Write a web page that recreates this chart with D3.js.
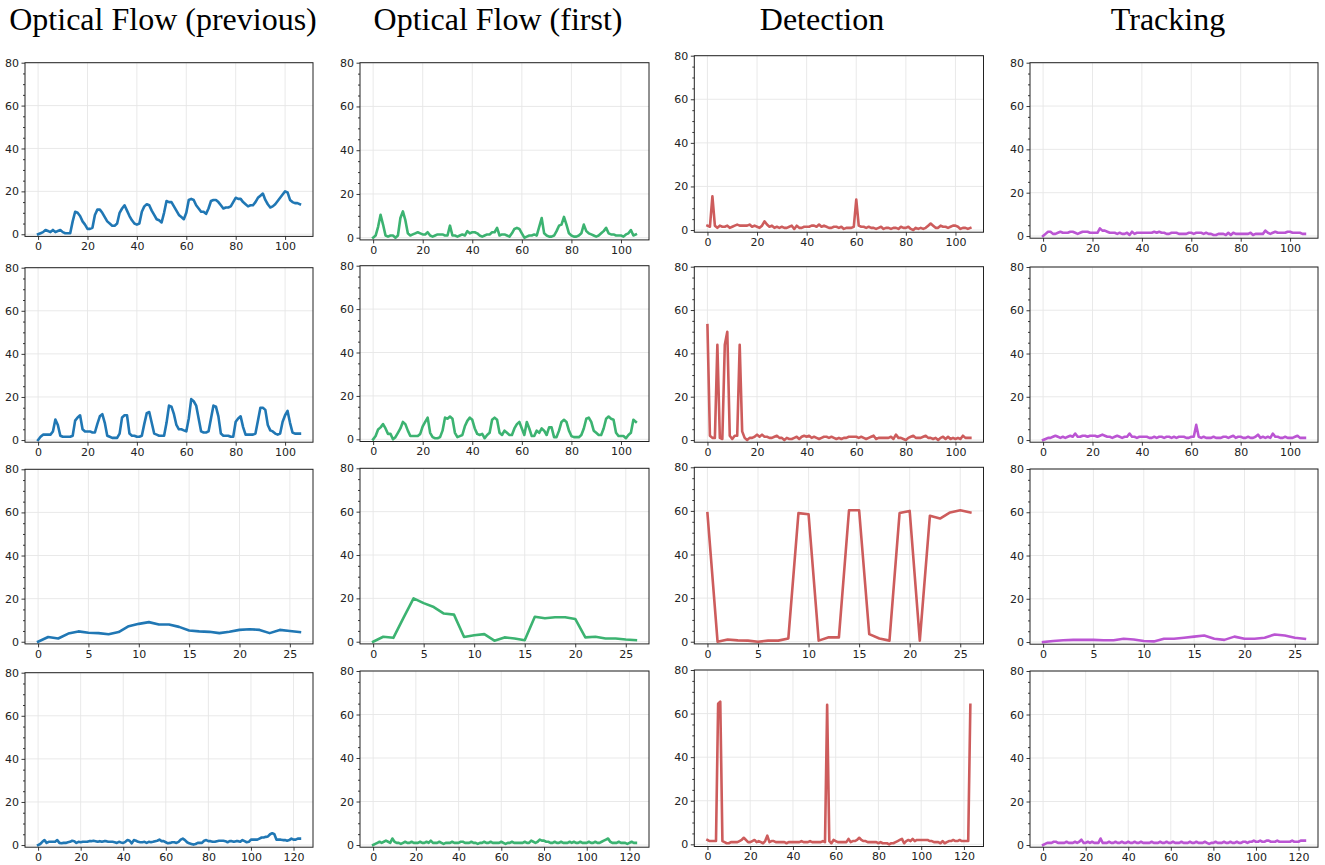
<!DOCTYPE html>
<html>
<head>
<meta charset="utf-8">
<script src="https://cdn.jsdelivr.net/npm/d3@7"></script>
<style>
  body { margin: 0; background: #fff; }
  svg { display: block; }
</style>
</head>
<body>
<svg id="chart" width="1325" height="865"></svg>
<script>
const columnTitles = ["Optical Flow (previous)", "Optical Flow (first)", "Detection", "Tracking"];

// row 1 (frames 0..106)
const flowPrev1 = [
  0, 0.5, 1, 2, 1.5, 1, 2, 1, 1.5, 2,
  1, 0.5, 0.5, 0.5, 6, 10.5, 10, 8.5, 6, 4.5,
  2.5, 2.5, 3, 9, 11.5, 11.5, 10, 8, 6, 5,
  4, 4, 5, 10, 12, 13.5, 11, 8.5, 6.5, 5,
  4.5, 5, 10.5, 13, 14, 13.5, 11, 9, 7, 6.5,
  5.5, 10, 15.5, 15, 15, 13, 11, 9, 8, 7,
  10, 16, 16.5, 16, 13.5, 12, 10.5, 10.5, 9.5, 12,
  15.5, 16, 16, 15, 13.5, 12, 12.5, 12.5, 13, 15,
  17, 16.5, 16.5, 15, 14, 13, 13.5, 13.5, 15, 17,
  18, 19, 16, 14, 12.5, 13, 14, 15.5, 17, 18.5,
  20, 19.5, 16, 15, 14.5, 14.5, 14
];
const flowFirst1 = [
  0, 1, 5, 10.5, 6, 1, 0.5, 1, 1, 0,
  1, 9, 12, 8, 2, 1, 1.5, 2, 2.5, 2,
  1.5, 1.5, 2.5, 1, 0.5, 1, 1.5, 1.5, 1.5, 1,
  1, 5.5, 1, 1, 0.5, 1, 1.5, 1, 3, 2,
  2.5, 2.5, 2, 1, 0.5, 1, 1.5, 1.5, 2.5, 2.5,
  4.5, 1, 1.5, 1.5, 1, 0.5, 2, 4, 4.5, 4,
  2, 0, 0.5, 1, 1, 1.5, 1, 5, 9, 2,
  1, 0.5, 0.5, 1, 3, 5.5, 6, 9.5, 6, 2,
  1, 0.5, 0.5, 1, 2, 6, 3, 2, 1.5, 1,
  0.5, 1, 2, 3, 4.5, 2, 1.5, 1.5, 1, 1,
  1, 0.5, 1.5, 2, 3.5, 1, 1.5
];
const detect1 = [
  2, 1.5, 15.5, 2, 1, 2, 1.5, 1.5, 2, 1,
  1.5, 2, 2.5, 2, 2, 2, 2, 2.5, 1.5, 2,
  1.5, 1, 2, 4, 2.5, 1.5, 2, 1, 1.5, 1,
  1.5, 1, 1, 1.5, 2, 0.5, 2, 1, 1, 1.5,
  1.5, 1.5, 2, 2, 1.5, 2.5, 1.5, 2, 1.5, 1,
  1, 1.5, 1.5, 1, 1.5, 0.5, 1, 1, 1, 1.5,
  14, 2, 1.5, 1.5, 1, 1.5, 1, 1, 0.5, 1,
  1.5, 0.5, 1, 1, 0.5, 1, 1, 0.5, 1.5, 1,
  1, 1.5, 0.5, 0, 1, 0.5, 1, 0.5, 1, 2,
  3, 2, 1, 1, 2, 1.5, 1.5, 1, 1.5, 2,
  2, 1.5, 0.5, 1, 1, 0.5, 1
];
const track1 = [
  0, 1, 2, 2, 1, 1, 1.5, 2, 1.5, 1.5,
  1.5, 2, 2, 1.5, 1, 1.5, 2, 2, 2, 1.5,
  1.5, 1.5, 1.5, 3.5, 2.5, 2.5, 2, 1.5, 1.5, 1.5,
  1, 1.5, 1, 1, 1.5, 0.5, 2, 1, 1.5, 1.5,
  1.5, 1.5, 1.5, 1.5, 1.5, 2, 1.5, 2, 1.5, 1.5,
  1, 1, 1.5, 1.5, 1.5, 1, 1, 1, 1, 1.5,
  1.5, 1, 1.5, 1.5, 1.5, 1, 1.5, 1, 1, 0.5,
  0.5, 1, 1, 1, 0.5, 1.5, 0.5, 1.5, 1, 1,
  1, 1, 1, 1, 1.5, 0.5, 1, 1, 1, 1,
  2.5, 1.5, 1, 1.5, 2, 1.5, 1.5, 1.5, 1.5, 2,
  2, 1.5, 1.5, 1.5, 1.5, 1, 1
];

// row 2 (frames 0..106)
const flowPrev2 = [
  0, 1.5, 2.5, 2.5, 2.5, 2.5, 4, 9.5, 7, 2,
  1.5, 1.5, 1.5, 1.5, 2, 9, 10.5, 11.5, 5, 4,
  4, 4, 3.5, 3.5, 7.5, 11, 12, 8, 2, 1.5,
  1, 1, 1, 3, 10.5, 11.5, 11.5, 3, 2, 2,
  1.5, 1.5, 2, 7.5, 12.5, 13, 8, 3, 2.5, 2,
  2, 2, 8, 16, 15.5, 12, 7, 5, 5, 4.5,
  4, 10, 19, 18, 16, 10, 4, 3.5, 3.5, 4,
  10, 16, 15.5, 11, 3, 2, 2, 2, 1.5, 1.5,
  8.5, 10, 11, 6, 2.5, 2.5, 2.5, 2.5, 3, 9,
  15, 15, 14, 7, 4.5, 4, 3, 2.5, 3, 8.5,
  11.5, 13.5, 8, 3.5, 3, 3, 3
];
const flowFirst2 = [
  0, 1.5, 4.5, 5.5, 7, 5, 2.5, 2.5, 0, 1,
  3, 5, 8, 7, 4, 1.5, 1.5, 1.5, 1.5, 2.5,
  6, 8, 10, 3, 1, 0.5, 0.5, 1, 4, 10,
  9.5, 10.5, 9.5, 3, 1, 1.5, 2, 6, 8.5, 10,
  9, 5, 2.5, 2, 2.5, 0.5, 2, 3, 9, 10,
  9, 3, 2, 4, 3, 2, 2, 5, 7, 8,
  5, 2, 8, 5, 1.5, 1.5, 4, 3, 5, 4,
  2, 5.5, 5.5, 1, 1, 4, 8, 9, 8, 4,
  1.5, 1, 1, 1, 2, 5, 9.5, 10, 8, 4,
  3, 2, 2, 5, 9.5, 10.5, 9.5, 9, 3, 1.5,
  1.5, 1.5, 0.5, 2, 3, 9, 8
];
const detect2 = [
  53, 2, 1, 1, 44, 1, 0.5, 44, 50, 2,
  0.5, 2, 2, 44, 4, 1, 0, 1, 1, 1.5,
  2.5, 1.5, 2.5, 1.5, 1.5, 1, 1, 1.5, 2, 1,
  1, 0, 1, 0.5, 0.5, 1, 1.5, 0.5, 1.5, 2,
  1.5, 2, 1, 1.5, 1, 0.5, 1, 1.5, 1.5, 1,
  1.5, 1, 0.5, 1, 0.5, 1, 1, 1.5, 1.5, 1.5,
  1.5, 1, 1.5, 1, 0.5, 1, 1.5, 2, 0.5, 1,
  1, 1, 1, 1, 1.5, 0.5, 2.5, 1, 1, 0.5,
  0, 1, 1.5, 2, 1, 1, 1, 1.5, 2, 1,
  1, 0.5, 1, 0, 1, 1.5, 0.5, 1.5, 0.5, 1,
  0.5, 1, 0.5, 2, 1, 1, 1
];
const track2 = [
  0, 0.5, 1, 1, 1.5, 2, 1.5, 1, 1.5, 1,
  1.5, 2, 1.5, 3, 1.5, 1.5, 2, 2, 1.5, 2,
  2, 2, 1.5, 2, 2.5, 2, 1.5, 1.5, 1, 1.5,
  2, 1.5, 1, 1.5, 1.5, 3, 1.5, 1.5, 1, 1.5,
  1.5, 1.5, 1.5, 1, 1, 1.5, 1, 1.5, 1.5, 1,
  1.5, 1.5, 1, 1.5, 1, 1.5, 1.5, 1.5, 1, 1,
  1.5, 1.5, 7, 1.5, 1, 1.5, 1, 1, 1, 1.5,
  1, 1, 1, 1.5, 1.5, 1, 1.5, 2, 1, 1.5,
  1.5, 1, 1, 1.5, 1, 1, 1.5, 2.5, 1, 1.5,
  1, 1.5, 1, 3, 1.5, 1.5, 1, 1, 1.5, 1,
  1, 1, 1.5, 2, 1, 1, 1
];

// row 3 (frames 0..26)
const flowPrev3 = [0, 2.2, 1.5, 3.8, 4.8, 4.2, 4, 3.5, 4.5, 7.2, 8.3, 9.1, 8, 8, 6.9, 5.2, 4.8, 4.6, 4, 4.6, 5.5, 5.8, 5.5, 4, 5.5, 5, 4.5];
const flowFirst3 = [0, 2.3, 1.8, 11, 20, 17.8, 16, 13, 12.5, 2.2, 3, 3.5, 0.5, 2, 1.5, 0.7, 11.5, 10.8, 11.3, 11.3, 10.5, 2, 2.3, 1.5, 1.5, 1, 0.7];
const detect3 = [59, 0, 1, 0.6, 0.5, 0, 0.5, 0.5, 1.5, 59, 58.5, 0.5, 2, 2, 60.3, 60.3, 3.5, 1.5, 0.5, 59, 60, 0.5, 57.8, 56.5, 59.3, 60.3, 59.3];
const track3 = [0, 0.5, 0.8, 1, 1, 1, 0.8, 0.8, 1.5, 1.2, 0.5, 0.3, 1.5, 1.5, 2, 2.5, 3, 1.5, 1, 2.5, 1.5, 1.5, 2, 3.5, 3, 2, 1.5];

// row 4 (frames 0..123)
const flowPrev4 = [
  0, 0.5, 1.5, 2.3, 1, 1.5, 1.5, 1.5, 1.5, 2.3,
  1, 0.8, 1, 1, 1.3, 1.5, 2, 1.8, 1, 1.5,
  1.3, 1.5, 1.5, 1.5, 1.8, 1.8, 2, 1.8, 1.5, 1.8,
  1.5, 1.8, 1.8, 1.5, 1.5, 1.5, 1.3, 1, 1.5, 1.2,
  1, 1.5, 2.3, 2, 0.8, 2.3, 2, 1.5, 1.3, 1.3,
  1.5, 1, 1.5, 1.3, 1.5, 1.8, 2, 2.5, 1.8, 1.8,
  1.3, 0.8, 1, 1.3, 1.3, 1, 1.5, 2.5, 3, 2.3,
  1.3, 0.8, 0.5, 0.2, 0.5, 1, 1, 1, 2, 2.3,
  1.8, 1.8, 1.5, 1.5, 1.8, 2, 2, 2, 1.8, 1.3,
  1.8, 1.8, 1.5, 1.8, 1.8, 1.5, 2.3, 1.8, 1.3, 1.5,
  2.5, 2.5, 2.5, 2.5, 3, 3.5, 3.5, 3.8, 4, 5,
  5.5, 5, 2.5, 2.5, 2.5, 2.3, 2.3, 2, 2.3, 3,
  2.5, 2.5, 3, 3
];
const flowFirst4 = [
  0, 0.5, 1, 1.5, 1, 1.5, 2, 1.5, 1, 3,
  1.5, 1, 1, 0.5, 1, 1.5, 1, 1, 1.5, 1,
  1, 1, 1.5, 1, 1, 1.5, 1, 2, 1, 1,
  1, 1.5, 1, 0.5, 1, 1, 1, 1.5, 1, 1,
  1, 1.5, 1.5, 1, 1, 1, 1.5, 1, 1, 0.5,
  1, 1, 1.5, 1, 1, 1.5, 1, 1, 1, 1,
  1.5, 1, 0.5, 1, 1, 1.5, 1, 1, 1, 1,
  1, 1.5, 1, 1, 2, 1.5, 1, 1.5, 2.5, 2,
  2, 1.5, 1.5, 1, 1, 1.5, 1, 1, 1.5, 1,
  1, 1, 1.5, 1, 1.5, 1, 1, 1.5, 1, 1,
  1, 1.5, 1, 1, 1.5, 1, 1, 1.5, 2, 2.5,
  3, 1.5, 1, 1, 1, 1.5, 1, 1, 1, 0.5,
  1, 1.5, 1, 1
];
const detect4 = [
  2, 1.5, 1.5, 1.5, 1.5, 64.5, 65.5, 1.5, 1, 0.5,
  0.5, 1, 1, 1, 1, 1.5, 2, 3, 2, 1,
  1, 1.5, 2, 1, 1.5, 1, 0.5, 1.5, 4, 1,
  1.5, 1.5, 1, 1, 1, 1, 1, 0.5, 1, 1,
  1, 1, 1, 1, 1.5, 1, 1, 1, 1.5, 1,
  1, 1, 1, 1, 1.5, 1, 64, 1.5, 0.5, 2,
  1.5, 1, 1, 1, 1, 1, 2.5, 1, 1.5, 1.5,
  2, 3, 2, 1.5, 1.5, 1, 1, 1, 1, 1,
  0.5, 1, 0.5, 0.5, 0.5, 0, 0.5, 0.5, 1, 1.5,
  2, 2.5, 0.5, 1.5, 2, 1.5, 2.5, 1.5, 2, 2,
  2, 2, 2, 2, 1.5, 1.5, 1, 1, 1, 0.5,
  1.5, 0.5, 1, 1.5, 1.5, 2, 1.5, 1.5, 2, 1.5,
  1.5, 1.5, 1.5, 64
];
const track4 = [
  0, 0.5, 1, 1, 1, 1.5, 1.5, 1, 1, 1,
  1, 1.5, 1, 1, 1, 1.5, 1, 1.5, 2.5, 1,
  1, 1.5, 1, 1.5, 1, 1, 1, 3, 1, 1,
  1, 1.5, 1, 1, 1.5, 1, 1, 1.5, 1, 1,
  1.5, 1, 1, 1.5, 1, 1, 1.5, 1, 1, 1,
  1, 1.5, 1, 1, 1, 1.5, 1, 1, 1.5, 1,
  1, 1.5, 1, 1, 1, 1.5, 1, 1, 1, 1.5,
  1, 1, 1.5, 1, 1, 1, 1.5, 1, 0.5, 1,
  1, 1.5, 1, 1, 1, 1.5, 1, 1, 1.5, 1,
  1, 1.5, 1, 1, 1.5, 1.5, 1, 1.5, 1.5, 2,
  1.5, 1.5, 2, 1.5, 1.5, 2, 2, 1.5, 1.5, 1.5,
  2, 1.5, 1.5, 1.5, 1.5, 1.5, 1.5, 2, 1.5, 1.5,
  1.5, 2, 2, 2
];

const seriesGrid = [
  [flowPrev1, flowFirst1, detect1, track1],
  [flowPrev2, flowFirst2, detect2, track2],
  [flowPrev3, flowFirst3, detect3, track3],
  [flowPrev4, flowFirst4, detect4, track4]
];
const lineColors = ["#2077b4", "#3cb371", "#cd5c5c", "#bb55d3"];
const yMajor = [0, 20, 40, 60, 80];
const yMinor = d3.range(0, 81, 5).filter(v => v % 20 !== 0);
const xStepByRow = [20, 20, 5, 20];

// layout: [left, right] per column, [top, bottom] per panel
const colX = [[25, 313], [360, 649], [694.3, 983.5], [1030, 1318]];
const panelY = [
  [[62.7, 236.4], [62.7, 239.9], [55.7, 232.2], [62.7, 238.2]],
  [[267.7, 442.2], [265.7, 441.5], [266.7, 442.2], [267, 442.2]],
  [[469.3, 643.9], [468.3, 643.9], [467.3, 643.9], [469, 644.2]],
  [[672.7, 847.2], [671, 847.2], [670, 846.5], [671, 847.2]]
];
const titleX = [163, 498, 822, 1168];

const svg = d3.select("#chart");
const tickFont = "DejaVu Sans, sans-serif";

svg.selectAll(".col-title").data(columnTitles).join("text")
  .attr("class", "col-title")
  .attr("x", (d, i) => titleX[i]).attr("y", 30)
  .attr("text-anchor", "middle")
  .style("font-family", "Liberation Serif, Times New Roman, serif")
  .style("font-size", "32px")
  .style("fill", "#000")
  .text(d => d);

seriesGrid.forEach((row, r) => row.forEach((vals, c) => {
  const [left, right] = colX[c];
  const [top, bottom] = panelY[r][c];
  const n = vals.length - 1;
  const x = d3.scaleLinear().domain([-0.05 * n, 1.05 * n]).range([left, right]);
  const y = d3.scaleLinear().domain([-1, 80]).range([bottom, top]);
  const xTicks = d3.range(0, n + 1, xStepByRow[r]);
  const g = svg.append("g").attr("class", "panel");

  // grid
  g.selectAll(".gx").data(xTicks).join("line").attr("class", "gx")
    .attr("x1", d => x(d)).attr("x2", d => x(d)).attr("y1", top).attr("y2", bottom)
    .attr("stroke", "#e6e6e6").attr("stroke-width", 0.9);
  g.selectAll(".gy").data(yMajor).join("line").attr("class", "gy")
    .attr("x1", left).attr("x2", right).attr("y1", d => y(d)).attr("y2", d => y(d))
    .attr("stroke", "#e6e6e6").attr("stroke-width", 0.9);

  // series
  g.append("path").datum(vals)
    .attr("d", d3.line().x((d, i) => x(i)).y(d => y(d)))
    .attr("fill", "none")
    .attr("stroke", lineColors[c])
    .attr("stroke-width", 2.6)
    .attr("stroke-linejoin", "round")
    .attr("stroke-linecap", "square");

  // axes
  const xa = g.append("g").attr("transform", `translate(0,${bottom})`)
    .call(d3.axisBottom(x).tickValues(xTicks).tickSize(3.5).tickPadding(2.5).tickSizeOuter(0));
  const ya = g.append("g").attr("transform", `translate(${left},0)`)
    .call(d3.axisLeft(y).tickValues(yMajor).tickSize(3.5).tickPadding(2.5).tickSizeOuter(0));
  g.append("g").attr("transform", `translate(${left},0)`)
    .call(d3.axisLeft(y).tickValues(yMinor).tickSize(2).tickFormat("").tickSizeOuter(0))
    .call(a => a.select(".domain").remove());
  [xa, ya].forEach(a => {
    a.select(".domain").remove();
    a.selectAll("text").style("font-family", tickFont).style("font-size", "11px").style("fill", "#222");
  });
  g.selectAll(".tick line").attr("stroke", "#222").attr("stroke-width", 0.9);

  g.append("rect")
    .attr("x", left).attr("y", top).attr("width", right - left).attr("height", bottom - top)
    .attr("fill", "none").attr("stroke", "#222").attr("stroke-width", 1);
}));
</script>
</body>
</html>
